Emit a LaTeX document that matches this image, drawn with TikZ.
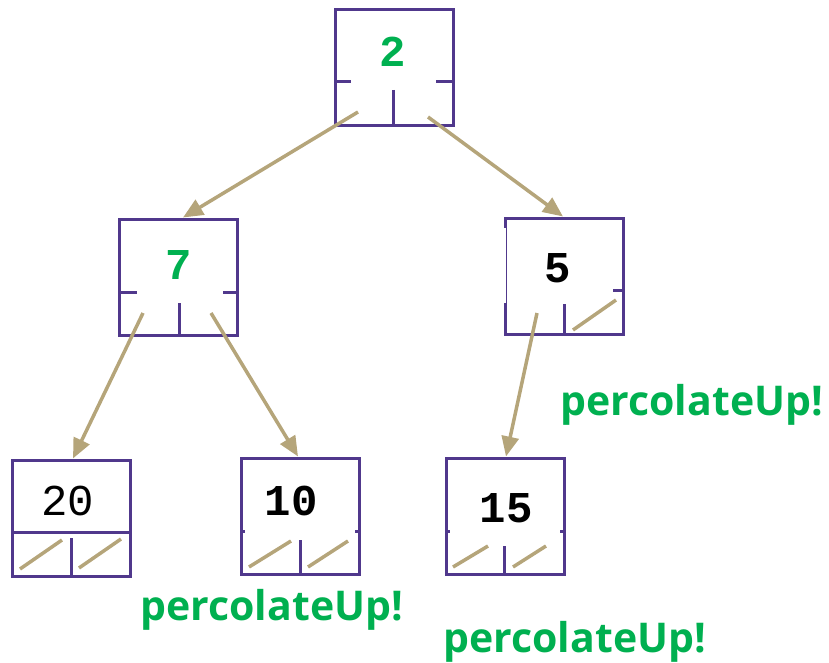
\documentclass[tikz,border=0pt]{standalone}
\usepackage{fontspec}
\setmonofont{Liberation Mono}
\newfontfamily\notefont{Open Sans}
\usetikzlibrary{arrows.meta,positioning}
\definecolor{boxpurple}{RGB}{80,56,140}
\definecolor{ptrtan}{RGB}{181,165,122}
\definecolor{heapgreen}{RGB}{0,176,80}

\begin{document}
\begin{tikzpicture}
[x=1pt, y=-1pt, >={Triangle[length=20pt,width=17pt]},
heapbox/.style={draw=boxpurple, line width=3pt, minimum width=118pt, minimum height=116pt, inner sep=0pt},
divider/.style={draw=boxpurple, line width=3pt},
ptr/.style={->, draw=ptrtan, fill=ptrtan, line width=3.5pt},
nullptr/.style={draw=ptrtan, line width=3.5pt},
key/.style={anchor=base, font=\ttfamily\bfseries\fontsize{44}{44}\selectfont},
changed/.style={key, text=heapgreen},
note/.style={anchor=base west, text=heapgreen, font=\notefont\bfseries\fontsize{41}{41}\selectfont}
]
  \useasboundingbox (0,0) rectangle (829,663);

  % the boxes
  \node[heapbox] (n2)  at (394,68)  {};
  \node[heapbox] (n7)  at (178,277) {};
  \node[heapbox] (n5)  at (564,276) {};
  \node[heapbox] (n20) at (71,518)  {};
  \node[heapbox] (n10) at (300,516) {};
  \node[heapbox] (n15) at (505,516) {};
  \draw[white, line width=4pt] (n5.west |- 0,228) -- (n5.west |- 0,303); % gap in left side

  % dividers
  \draw[divider] (335,82) -- (351,82) (436,82) -- (453,82) (393,90) -- (393,126);
  \draw[divider] (119,292) -- (137,292) (223,292) -- (237,292) (179,303) -- (179,336);
  \draw[divider] (613,290) -- (624,290) (564,304) -- (564,335);
  \draw[divider] (12,532) -- (130,532) (71,538) -- (71,576);
  \draw[divider] (241,531) -- (245,531) (355,531) -- (359,531) (300,540) -- (300,575);
  \draw[divider] (446,531) -- (450,531) (560,531) -- (564,531) (504,546) -- (504,575);

  % keys
  \node[changed] (k2)  at (393,67)  {2};
  \node[changed] (k7)  at (179,279) {7};
  \node[key]     (k5)  at (558,282) {5};
  \node[key, font=\ttfamily\fontsize{44}{44}\selectfont] (k20) at (68,515) {20};
  \node[key]     (k10) at (291,515) {10};
  \node[key]     (k15) at (506,522) {15};

  % null children
  \draw[nullptr] (573,330) -- (616,300);
  \draw[nullptr] (20,569) -- (62,540) (79,568) -- (121,539);
  \draw[nullptr] (249,567) -- (291,541) (308,567) -- (348,541);
  \draw[nullptr] (453,567) -- (488,546) (513,567) -- (546,546);

  % child pointers
  \coordinate (p2l) at (358,112);
  \coordinate (p2r) at (428,117);
  \coordinate (p7l) at (143,313);
  \coordinate (p7r) at (211,313);
  \coordinate (p5l) at (537,313);
  \draw[ptr] (p2l) -- ([xshift=5pt]n7.north);
  \draw[ptr] (p2r) -- ([xshift=-1pt]n5.north);
  \draw[ptr] (p7l) -- ([xshift=2pt]n20.north);
  \draw[ptr] (p7r) -- ([xshift=-2pt]n10.north);
  \draw[ptr] (p5l) -- ([xshift=1pt]n15.north);

  % notes
  \node[note] (up5)  at (557,415) {percolateUp!};
  \node[note] (up10) at (137,620) {percolateUp!};
  \node[note] (up15) at (440,652) {percolateUp!};
\end{tikzpicture}
\end{document}
